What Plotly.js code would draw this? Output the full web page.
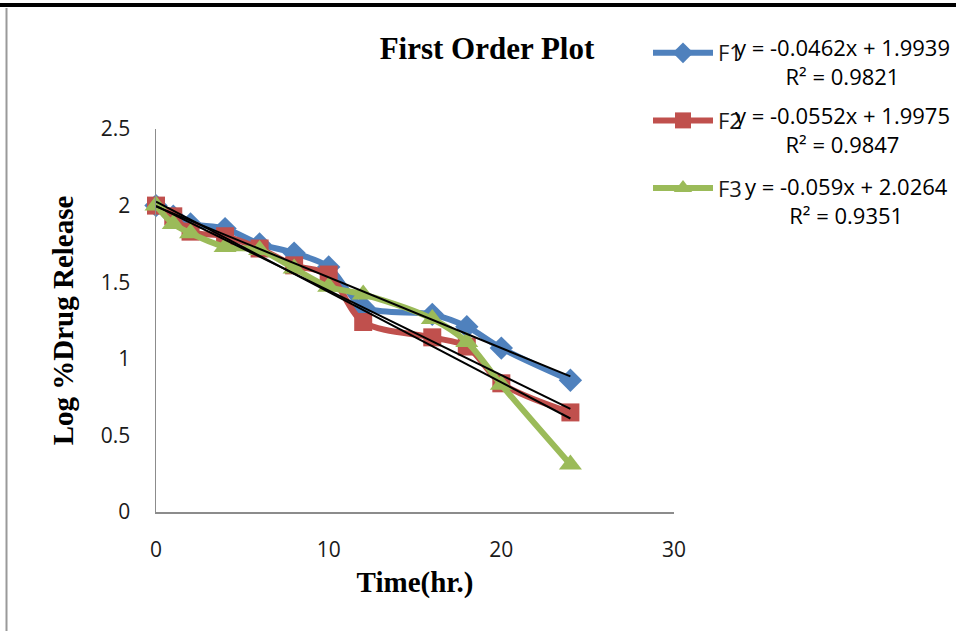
<!DOCTYPE html>
<html>
<head>
<meta charset="utf-8">
<script src="https://cdn.plot.ly/plotly-3.0.1.min.js"></script>
<style>html,body{margin:0;padding:0;background:#fff;}#chart{width:956px;height:631px;}</style>
</head>
<body>
<div id="chart"></div>
<script>
// Time points (hr.)
const timeHr = [0, 1, 2, 4, 6, 8, 10, 12, 16, 18, 20, 24];
// Log % drug release per formulation
const f1Values = [2.00, 1.93, 1.88, 1.85, 1.75, 1.69, 1.60, 1.34, 1.29, 1.21, 1.07, 0.86];
const f2Values = [2.00, 1.93, 1.83, 1.80, 1.72, 1.61, 1.55, 1.24, 1.14, 1.08, 0.84, 0.65];
const f3Values = [2.00, 1.88, 1.82, 1.73, 1.71, 1.59, 1.47, 1.42, 1.26, 1.11, 0.83, 0.31];
const seriesNames = ["F1", "F2", "F3"];
// Linear trendline coefficients shown on the chart
const trendSlopes = [-0.0462, -0.0552, -0.059];
const trendIntercepts = [1.9939, 1.9975, 2.0264];
const trendRange = [0, 24];
const trendLabels = [
  "y = -0.0462x + 1.9939<br>R² = 0.9821",
  "y = -0.0552x + 1.9975<br>R² = 0.9847",
  "y = -0.059x + 2.0264<br>R² = 0.9351"
];
const xTicks = [0, 10, 20, 30];
const yTicks = [0, 0.5, 1, 1.5, 2, 2.5];

const colors = ["#4F81BD", "#C0504D", "#9BBB59"];
const symbols = ["diamond", "square", "triangle-up"];
const msizes = [18, 18, 20];
const allValues = [f1Values, f2Values, f3Values];

// plot area in pixels: x 156..674, y 129..512
const L = 156, R = 674, T = 129, B = 512;
const px = v => (v - L) / (R - L);
const py = v => (B - v) / (B - T);

const traces = [];
allValues.forEach((vals, i) => {
  traces.push({
    x: timeHr, y: vals, name: seriesNames[i], type: "scatter", mode: "lines+markers",
    line: {color: colors[i], width: 6, shape: "spline", smoothing: 0.9},
    marker: {symbol: symbols[i], size: msizes[i], color: colors[i]},
    legendgroup: "g" + i, cliponaxis: false
  });
});
allValues.forEach((vals, i) => {
  traces.push({
    x: trendRange, y: trendRange.map(t => trendSlopes[i] * t + trendIntercepts[i]),
    type: "scatter", mode: "lines", showlegend: false, hoverinfo: "skip",
    line: {color: "#000000", width: 2}, cliponaxis: false
  });
});

const eqCenters = [[842, 62], [842, 129], [846, 200]];
const annotations = trendLabels.map((t, i) => ({
  text: t, xref: "paper", yref: "paper", x: px(eqCenters[i][0]), y: py(eqCenters[i][1]),
  xanchor: "center", yanchor: "middle", align: "center", showarrow: false,
  font: {family: "Open Sans", size: 22, color: "#000"}
}));

const layout = {
  width: 956, height: 631,
  margin: {l: L, r: 956 - R, t: T, b: 631 - B, pad: 0},
  paper_bgcolor: "#ffffff", plot_bgcolor: "#ffffff",
  showlegend: true,
  title: {text: "<b>First Order Plot</b>", x: 487 / 956, y: 1 - 48 / 631, xanchor: "center", yanchor: "middle",
    font: {family: "Liberation Serif", size: 31, color: "#000"}},
  xaxis: {range: [0, 30], tickvals: xTicks, ticks: "", showgrid: false, zeroline: false,
    showline: true, linecolor: "#8c8c8c", linewidth: 1.5, ticklabelstandoff: 18,
    tickfont: {family: "Open Sans", size: 21, color: "#1a1a1a"},
    title: {text: "<b>Time(hr.)</b>", standoff: 10, font: {family: "Liberation Serif", size: 29, color: "#000"}}},
  yaxis: {range: [0, 2.5], tickvals: yTicks, ticktext: yTicks.map(String), ticks: "", showgrid: false, zeroline: false,
    showline: true, linecolor: "#8c8c8c", linewidth: 1.5, ticklabelstandoff: 20,
    tickfont: {family: "Open Sans", size: 21, color: "#1a1a1a"},
    title: {text: "<b>Log %Drug Release</b>", standoff: 18, font: {family: "Liberation Serif", size: 29, color: "#000"}}},
  legend: {x: px(648), y: py(32), xanchor: "left", yanchor: "top", bgcolor: "rgba(0,0,0,0)",
    traceorder: "grouped", tracegroupgap: 36, itemwidth: 60,
    font: {family: "Open Sans", size: 22, color: "#1a1a1a"}},
  annotations: annotations,
  shapes: [
    {type: "line", xref: "paper", yref: "paper", x0: px(0), x1: px(956), y0: py(5), y1: py(5),
      line: {color: "#000", width: 4}},
    {type: "line", xref: "paper", yref: "paper", x0: px(6.5), x1: px(6.5), y0: py(8), y1: py(631),
      line: {color: "#9a9a9a", width: 2}}
  ]
};

Plotly.newPlot("chart", traces, layout, {displayModeBar: false, staticPlot: true});
</script>
</body>
</html>
